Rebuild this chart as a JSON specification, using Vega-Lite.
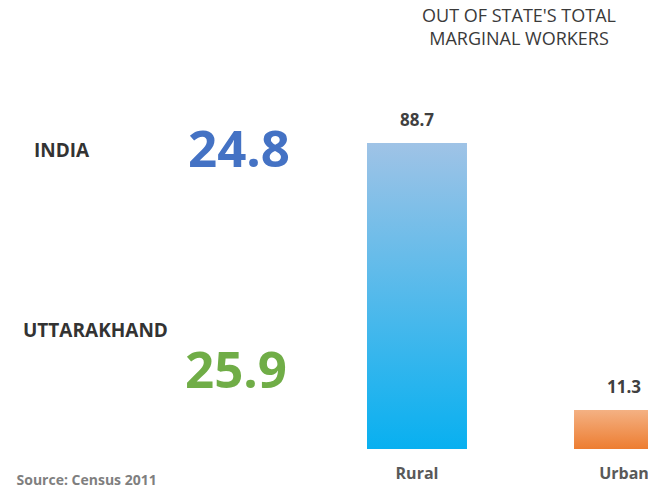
{
  "$schema": "https://vega.github.io/schema/vega-lite/v6.json",
  "width": 648,
  "height": 389,
  "autosize": {"type": "none"},
  "padding": {"top": 60, "left": 0, "right": 0, "bottom": 44},
  "background": "white",
  "config": {"view": {"stroke": null}, "font": "Open Sans"},
  "datasets": {
    "workers": [
      {"area": "Rural", "share": 88.7},
      {"area": "Urban", "share": 11.3}
    ],
    "states": [
      {"region": "INDIA", "share": 24.8},
      {"region": "UTTARAKHAND", "share": 25.9}
    ]
  },
  "title": {
    "text": ["OUT OF STATE'S TOTAL", "MARGINAL WORKERS"],
    "anchor": "middle",
    "dx": 195,
    "font": "Open Sans",
    "fontSize": 18,
    "fontWeight": "normal",
    "color": "#3a3a3a",
    "lineHeight": 23.5,
    "offset": 11
  },
  "layer": [
    {
      "data": {"name": "workers"},
      "encoding": {
        "x": {
          "field": "area",
          "type": "nominal",
          "scale": {"domain": ["Rural", "Urban"], "range": [367, 674], "paddingInner": 0.517, "paddingOuter": 0},
          "axis": {
            "labelAngle": 0,
            "domain": false,
            "ticks": false,
            "tickSize": 0,
            "labelPadding": 16,
            "labelFontSize": 16,
            "labelFontWeight": "bold",
            "labelColor": "#595959",
            "labelFont": "Open Sans",
            "title": "Source: Census 2011",
            "titleX": 16,
            "titleY": 31,
            "titleAlign": "left",
            "titleBaseline": "middle",
            "titleFontSize": 14,
            "titleFontWeight": "bold",
            "titleColor": "#7f7f7f",
            "titleFont": "Open Sans"
          }
        },
        "y": {
          "field": "share",
          "type": "quantitative",
          "scale": {"domain": [0, 112.8], "nice": false},
          "axis": null
        }
      },
      "layer": [
        {
          "transform": [{"filter": "datum.area === 'Rural'"}],
          "mark": {
            "type": "bar",
            "color": {
              "gradient": "linear",
              "x1": 0, "y1": 0, "x2": 0, "y2": 1,
              "stops": [
                {"offset": 0, "color": "#9fc3e6"},
                {"offset": 1, "color": "#08b0f0"}
              ]
            }
          }
        },
        {
          "transform": [{"filter": "datum.area === 'Urban'"}],
          "mark": {
            "type": "bar",
            "color": {
              "gradient": "linear",
              "x1": 0, "y1": 0, "x2": 0, "y2": 1,
              "stops": [
                {"offset": 0, "color": "#f4b183"},
                {"offset": 1, "color": "#ed7d31"}
              ]
            }
          }
        },
        {
          "mark": {
            "type": "text",
            "baseline": "bottom",
            "dy": -13,
            "fontSize": 17,
            "fontWeight": "bold",
            "color": "#404040",
            "font": "Open Sans"
          },
          "encoding": {"text": {"field": "share", "type": "quantitative", "format": ".1f"}}
        }
      ]
    },
    {
      "data": {"name": "states"},
      "layer": [
        {
          "mark": {
            "type": "text",
            "align": "left",
            "baseline": "middle",
            "fontSize": 19,
            "fontWeight": "bold",
            "color": "#333333",
            "font": "Open Sans"
          },
          "encoding": {
            "x": {"field": "region", "type": "nominal", "scale": {"type": "point", "domain": ["INDIA", "UTTARAKHAND"], "range": [34, 23], "padding": 0}, "axis": null},
            "y": {"field": "region", "type": "nominal", "scale": {"type": "point", "domain": ["INDIA", "UTTARAKHAND"], "range": [91, 271], "padding": 0}, "axis": null},
            "text": {"field": "region", "type": "nominal"}
          }
        },
        {
          "mark": {
            "type": "text",
            "align": "right",
            "baseline": "middle",
            "fontSize": 51,
            "fontWeight": "bold",
            "font": "Open Sans"
          },
          "encoding": {
            "x": {"field": "region", "type": "nominal", "scale": {"type": "point", "domain": ["INDIA", "UTTARAKHAND"], "range": [290, 287], "padding": 0}, "axis": null},
            "y": {"field": "region", "type": "nominal", "scale": {"type": "point", "domain": ["INDIA", "UTTARAKHAND"], "range": [92, 313], "padding": 0}, "axis": null},
            "color": {"field": "region", "type": "nominal", "scale": {"domain": ["INDIA", "UTTARAKHAND"], "range": ["#4472c4", "#70ad47"]}, "legend": null},
            "text": {"field": "share", "type": "quantitative", "format": ".1f"}
          }
        }
      ],
      "resolve": {"scale": {"x": "independent", "y": "independent"}}
    }
  ],
  "resolve": {"scale": {"x": "independent", "y": "independent"}}
}
